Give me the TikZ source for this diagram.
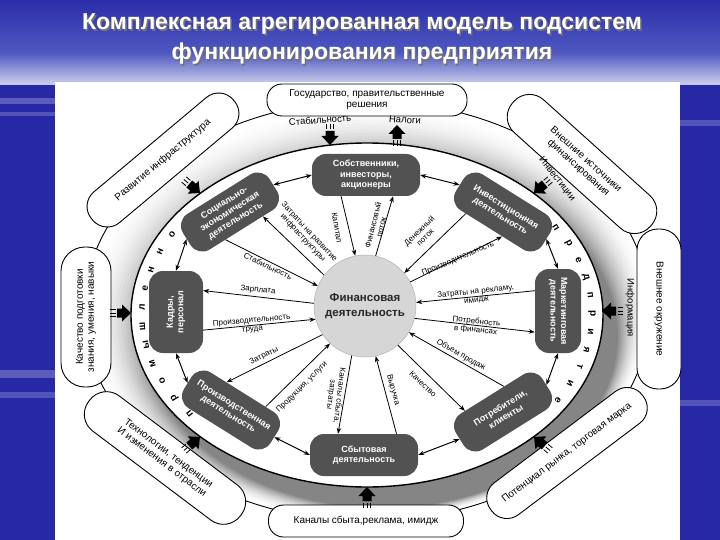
\documentclass[tikz,border=0pt]{standalone}
\usepackage{fontspec}
\setmainfont{Liberation Sans}
\usetikzlibrary{arrows.meta,calc}
\definecolor{bgblue}{RGB}{38,40,165}
\definecolor{bgtop}{RGB}{44,46,170}
\definecolor{bgmid}{RGB}{78,88,192}
\definecolor{bglight}{RGB}{205,208,238}
\definecolor{ndark}{RGB}{82,82,82}
\definecolor{ccirc}{RGB}{214,214,214}
\begin{document}
\begin{tikzpicture}[x=1pt,y=-1pt,
  inner/.style={fill=ndark, rounded corners=14pt, minimum width=102pt, minimum height=42pt, text=white, font=\bfseries\fontsize{9}{10.5}\selectfont, align=center, inner sep=1pt},
  pill/.style={draw=black, line width=0.9pt, fill=white, rounded corners=15pt, minimum height=32pt, font=\fontsize{10}{11}\selectfont, align=center, inner sep=2pt},
  lbl/.style={font=\fontsize{8}{8.5}\selectfont, inner sep=1pt, align=center},
  olbl/.style={font=\fontsize{9.5}{10}\selectfont, inner sep=1pt},
  letter/.style={font=\bfseries\fontsize{10}{10}\selectfont, inner sep=0pt},
  spoke/.style={-{Stealth[length=6pt,width=4.5pt]}, line width=0.8pt},
  dbl/.style={{Stealth[length=6pt,width=4.5pt]}-{Stealth[length=6pt,width=4.5pt]}, line width=1pt},
  blk/.pic={
    \fill[black] (0,0) -- (-9,-8.5) -- (-9,-4.5) -- (-14,-4.5) -- (-14,4.5) -- (-9,4.5) -- (-9,8.5) -- cycle;
    \draw[line width=0.8pt] (-21,-3.5) -- (-15.5,-3.5) (-21,0) -- (-15.5,0) (-21,3.5) -- (-15.5,3.5);
  }
]
\useasboundingbox (0,0) rectangle (720,540);
% background
\fill[bgblue] (0,0) rectangle (720,540);
\foreach \yy in {0,2,...,82} {
  \ifnum\yy<52
    \pgfmathsetmacro\pp{100-100*\yy/52}
    \fill[bgtop!\pp!bgmid] (0,\yy) rectangle (720,\yy+2.6);
  \else
    \pgfmathsetmacro\pp{100-100*(\yy-52)/32}
    \fill[bgmid!\pp!bglight] (0,\yy) rectangle (720,\yy+2.6);
  \fi
}
\fill[white, opacity=0.25] (0,98) rectangle (55,104);
\fill[white, opacity=0.2] (0,112) rectangle (55,116);
\fill[white, opacity=0.25] (0,370) rectangle (55,378);
\fill[white, opacity=0.2] (0,392) rectangle (55,398);
\fill[white, opacity=0.2] (680,120) rectangle (720,126);
\fill[white, opacity=0.2] (680,400) rectangle (720,406);
% panel
\fill[white] (55,82) rectangle (680,540);
% title
\node[font=\bfseries\fontsize{23}{30}\selectfont, text=black!55, align=center] (titlesh) at (363.5,40.5) {Комплексная агрегированная модель подсистем\\функционирования предприятия};
\node[font=\bfseries\fontsize{23}{30}\selectfont, text=white, align=center] (title) at (362,39) {Комплексная агрегированная модель подсистем\\функционирования предприятия};
% band (shadowed ring)
\begin{scope}
\clip (367,311) ellipse [x radius=283, y radius=210];
\foreach \k in {1,...,20} {
  \pgfmathsetmacro\tt{\k/20}
  \pgfmathsetmacro\rx{283-\tt*47}
  \pgfmathsetmacro\ry{210-\tt*38}
  \pgfmathsetmacro\cx{367+\tt*15}
  \pgfmathsetmacro\cy{311+\tt*25}
  \pgfmathsetmacro\gg{48*\tt*\tt}
  \fill[black!\gg] (\cx,\cy) ellipse [x radius=\rx, y radius=\ry];
}
\end{scope}
\fill[white] (367,315) ellipse [x radius=236, y radius=172];
\draw[line width=0.9pt] (367,311) ellipse [x radius=283, y radius=210];
\draw[line width=1.4pt] (367,315) ellipse [x radius=236, y radius=172];
% outer pills
\node[pill, minimum width=200pt] (p1) at (367,100) {Государство, правительственные\\решения};
\node[pill, minimum width=185pt, rotate=40, minimum height=40pt, rounded corners=19pt] (p2) at (163,160) {Развитие инфраструктура};
\node[pill, minimum width=185pt, rotate=-42, minimum height=44pt, rounded corners=21pt] (p3) at (582,164) {Внешние источники\\финансирования};
\node[pill, minimum width=160pt, rotate=-90, minimum height=44pt, rounded corners=21pt] (p4) at (659,309) {Внешнее окружение};
\node[pill, minimum width=190pt, rotate=37, minimum height=40pt, rounded corners=19pt] (p5) at (567,453) {Потенциал рынка, торговая марка};
\node[pill, minimum width=195pt] (p6) at (366,521) {Каналы сбыта,реклама, имидж};
\node[pill, minimum width=190pt, rotate=-37, minimum height=44pt, rounded corners=21pt] (p7) at (165,458) {Технологии, тенденции\\И изменения в отрасли};
\node[pill, minimum width=140pt, rotate=90, minimum height=50pt, rounded corners=24pt] (p8) at (86,317) {Качество подготовки\\знания, умения, навыки};
% block arrows
\pic[rotate=-90] (a1) at (330,145) {blk};
\pic[rotate=90] (a2) at (397,125) {blk};
\pic[rotate=-40] (a3) at (200,193) {blk};
\pic[rotate=-140] (a4) at (534,193) {blk};
\pic[rotate=180] (a5) at (602,311) {blk};
\pic[rotate=140] (a6) at (534,437) {blk};
\pic[rotate=90] (a7) at (367,487) {blk};
\pic[rotate=40] (a8) at (200,437) {blk};
\pic[rotate=0] (a9) at (131,313) {blk};
\node[olbl, rotate=4] (o1) at (320,120) {Стабильность};
\node[olbl, rotate=-4] (o2) at (405,120) {Налоги};
\node[olbl, rotate=-52] (o3) at (557,179) {Инвестиции};
\node[olbl, rotate=-90] (o4) at (630,308) {Информация};
% letters
\foreach \ch [count=\i from 0] in {п,р,о,м,ы,ш,л,е,н,н,о,е} {
  \pgfmathsetmacro\ang{218-\i*6.8}
  \node[letter, rotate=\ang-90] (la\i) at ({367+225*cos(\ang)},{315-160*sin(\ang)}) {\ch};
}
\foreach \ch [count=\i from 0] in {п,р,е,д,п,р,и,я,т,и,е} {
  \pgfmathsetmacro\ang{33-\i*6.5}
  \node[letter, rotate=\ang-90] (lb\i) at ({367+225*cos(\ang)},{315-160*sin(\ang)}) {\ch};
}
% inner nodes
\node[circle, fill=ccirc, draw=gray!60, line width=0.5pt, minimum size=102pt, inner sep=0pt, font=\bfseries\fontsize{11.5}{15}\selectfont, text=black!85, align=center] (F) at (365,306) {Финансовая\\деятельность};
\node[inner, minimum width=108pt] (own) at (366,175) {Собственники,\\инвесторы,\\акционеры};
\node[inner, rotate=-32] (inv) at (503,212) {Инвестиционная\\деятельность};
\node[inner, rotate=-90, minimum width=84pt, minimum height=46pt] (mkt) at (558,311) {Маркетинговая\\деятельность};
\node[inner, rotate=32] (cons) at (503,412) {Потребители,\\клиенты};
\node[inner, minimum width=108pt] (sales) at (364,455) {Сбытовая\\деятельность};
\node[inner, rotate=-32] (prod) at (231,410) {Производственная\\деятельность};
\node[inner, rotate=90, minimum width=82pt, minimum height=54pt] (kad) at (176,312) {Кадры,\\персонал};
\node[inner, rotate=32] (soc) at (230,212) {Социально-\\экономическая\\деятельность};
% ring double arrows
\draw[dbl] (soc.east) -- (own.west);
\draw[dbl] (own.east) -- (inv.west);
\draw[dbl] (inv.east) -- (mkt.west);
\draw[dbl] (mkt.east) -- (cons.east);
\draw[dbl] (cons.west) -- (sales.east);
\draw[dbl] (sales.west) -- (prod.east);
\draw[dbl] (prod.west) -- (kad.west);
\draw[dbl] (kad.east) -- (soc.west);
% spokes
\draw[spoke] ($(own.south west)!0.27!(own.south east)$) -- (F.101);
\draw[spoke] (F.78) -- ($(own.south west)!0.75!(own.south east)$);
\draw[spoke] ($(inv.south west)!0.2!(inv.south east)$) -- (F.40);
\draw[spoke] (F.28) -- ($(inv.south west)!0.62!(inv.south east)$);
\draw[spoke] ($(mkt.south west)!0.26!(mkt.south east)$) -- (F.4);
\draw[spoke] (F.-14) -- ($(mkt.south west)!0.75!(mkt.south east)$);
\draw[spoke] ($(cons.north west)!0.64!(cons.north east)$) -- (F.-31);
\draw[spoke] (F.-50) -- ($(cons.north west)!0.19!(cons.north east)$);
\draw[spoke] ($(sales.north west)!0.8!(sales.north east)$) -- (F.-78);
\draw[spoke] (F.-105) -- ($(sales.north west)!0.26!(sales.north east)$);
\draw[spoke] ($(prod.north west)!0.77!(prod.north east)$) -- (F.-133);
\draw[spoke] (F.-146) -- ($(prod.north west)!0.32!(prod.north east)$);
\draw[spoke] ($(kad.south west)!0.28!(kad.south east)$) -- (F.-165);
\draw[spoke] (F.177) -- ($(kad.south west)!0.76!(kad.south east)$);
\draw[spoke] ($(soc.south west)!0.32!(soc.south east)$) -- (F.157);
\draw[spoke] (F.143) -- ($(soc.south west)!0.75!(soc.south east)$);
% spoke labels
\node[lbl, rotate=-80] (t1) at (337,228) {Капитал};
\node[lbl, rotate=76] (t2) at (377,226) {Финансовый\\поток};
\node[lbl, rotate=44] (t3) at (422,234) {Денежный\\поток};
\node[lbl, rotate=23] (t4) at (458,259) {Производительность};
\node[lbl, rotate=6] (t5) at (476,296) {Затраты на рекламу,\\имидж};
\node[lbl, rotate=-6] (t6) at (476,326) {Потребность\\в финансах};
\node[lbl, rotate=-30] (t7) at (461,355) {Объем продаж};
\node[lbl, rotate=-44] (t8) at (423,384) {Качество};
\node[lbl, rotate=-75] (t9) at (393,390) {Выручка};
\node[lbl, rotate=-97] (t10) at (335,395) {Каналы сбыта,\\затраты};
\node[lbl, rotate=45] (t11) at (302,387) {Продукция, услуги};
\node[lbl, rotate=27] (t12) at (264,356) {Затраты};
\node[lbl, rotate=5] (t13) at (252,325) {Производительность\\труда};
\node[lbl, rotate=-6] (t14) at (258,290) {Зарплата};
\node[lbl, rotate=-26] (t15) at (268,266) {Стабильность};
\node[lbl, rotate=-47] (t16) at (306,235) {Затраты на развитие\\инфраструктуры};
\end{tikzpicture}
\end{document}
